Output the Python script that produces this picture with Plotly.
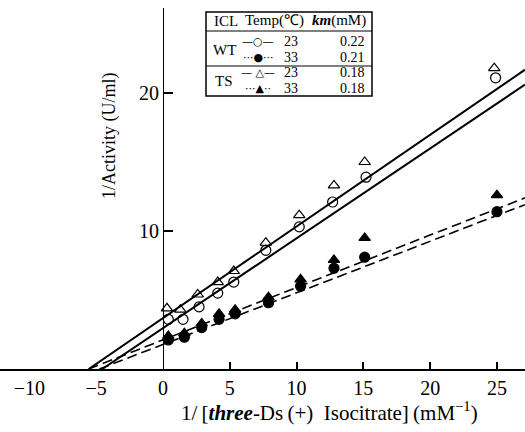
import plotly.graph_objects as go

# ---------------- data ----------------
wt23_x = [0.4, 1.5, 2.7, 4.1, 5.3, 7.7, 10.2, 12.7, 15.2, 24.9]
wt23_y = [3.6, 3.6, 4.5, 5.5, 6.3, 8.6, 10.3, 12.1, 13.9, 21.1]
wt33_x = [0.4, 1.6, 2.9, 4.2, 5.4, 7.9, 10.3, 12.8, 15.1, 25.0]
wt33_y = [2.1, 2.3, 3.0, 3.6, 4.0, 4.8, 6.0, 7.3, 8.1, 11.4]
ts23_x = [0.3, 1.3, 2.6, 4.1, 5.3, 7.7, 10.2, 12.8, 15.1, 24.8]
ts23_y = [4.4, 4.3, 5.4, 6.3, 7.1, 9.15, 11.15, 13.3, 15.0, 21.8]
ts33_x = [0.4, 1.6, 2.9, 4.2, 5.4, 7.9, 10.3, 12.8, 15.1, 25.0]
ts33_y = [2.4, 2.6, 3.3, 4.0, 4.3, 5.2, 6.5, 7.9, 9.5, 12.6]

# fitted lines: km (mM) and y-intercept (1/V)
km = {"wt23": 0.22, "wt33": 0.21, "ts23": 0.18, "ts33": 0.18}
y_int = {"wt23": 2.96, "wt33": 1.78, "ts23": 3.69, "ts33": 2.11}

x_tick_vals = [-10, -5, 0, 5, 10, 15, 20, 25]
x_tick_text = ["\u221210", "\u22125", "0", "5", "10", "15", "20", "25"]
y_tick_vals = [10, 20]

X_RANGE = [-12.2, 27.1]
Y_RANGE = [0, 26.16]

W, H = 525, 432
ML, MR, MT, MB = 0, 0, 8, 63
SERIF = "Liberation Serif, Times New Roman, serif"

fig = go.Figure()

def fit_line(key, dash):
    k, b = km[key], y_int[key]
    x0 = -1.0 / k
    x1 = X_RANGE[1]
    xs = [x0, x1]
    ys = [b * (k * x + 1.0) for x in xs]
    fig.add_trace(go.Scatter(x=xs, y=ys, mode="lines",
                             line=dict(color="black", width=2 if dash == "solid" else 1.6,
                                       dash=dash),
                             showlegend=False, hoverinfo="skip"))

fit_line("ts23", "solid")
fit_line("wt23", "solid")
fit_line("ts33", "10px,5px")
fit_line("wt33", "10px,5px")

def pts(x, y, symbol, size):
    fig.add_trace(go.Scatter(x=x, y=y, mode="markers",
                             marker=dict(symbol=symbol, size=size, color="black",
                                         line=dict(color="black", width=1.2)),
                             showlegend=False))

pts(wt33_x, wt33_y, "circle", 10)
pts(ts33_x, ts33_y, "triangle-up", 10)
pts(wt23_x, wt23_y, "circle-open", 10)
pts(ts23_x, ts23_y, "triangle-up-open", 10)

# ---------- layout helpers (pixel -> paper) ----------
PW = W - ML - MR
PH = H - MT - MB
def pxx(px):
    return (px - ML) / PW
def pyy(py):
    return (H - MB - py) / PH

shapes = []
annotations = []

# legend table
L, R, T, B = 206, 372, 12, 96
shapes.append(dict(type="rect", xref="paper", yref="paper",
                   x0=pxx(L), x1=pxx(R), y0=pyy(B), y1=pyy(T),
                   line=dict(color="black", width=1.5), fillcolor="white", layer="above"))
for ly in (31, 66):
    shapes.append(dict(type="line", xref="paper", yref="paper",
                       x0=pxx(L), x1=pxx(R), y0=pyy(ly), y1=pyy(ly),
                       line=dict(color="black", width=1.2), layer="above"))

def txt(px, py, s, size=14, xanchor="center"):
    annotations.append(dict(x=pxx(px), y=pyy(py), xref="paper", yref="paper",
                            text=s, showarrow=False, xanchor=xanchor, yanchor="middle",
                            borderpad=0,
                            font=dict(family=SERIF, size=size, color="black")))

txt(226, 21, "ICL", size=15)
txt(274, 21, "Temp(\u2103)", size=15)
txt(339, 21, "<b><i>km</i></b>(mM)", size=15)
txt(224, 50, "WT", size=15)
txt(224, 81, "TS", size=15)

legend_rows = [
    (42, "\u2014\u25CB\u2014", "23", "0.22"),
    (57, "\u00B7\u00B7\u00B7\u25CF\u00B7\u00B7\u00B7", "33", "0.21"),
    (73, "\u2014 \u25B3\u2014", "23", "0.18"),
    (88, "\u00B7\u00B7\u00B7\u25B2\u00B7\u00B7", "33", "0.18"),
]
for py, sym, t, k in legend_rows:
    annotations.append(dict(x=pxx(258), y=pyy(py), xref="paper", yref="paper",
                            text=sym, showarrow=False, xanchor="center", yanchor="middle",
                            borderpad=0,
                            font=dict(family="DejaVu Sans", size=11, color="black")))
    txt(291, py, t, size=14)
    txt(366, py, k, size=14, xanchor="right")

# axis titles
annotations.append(dict(x=pxx(329), y=pyy(411), xref="paper", yref="paper",
                        text="1/\u2009[<b><i>three</i></b>-Ds\u2009(+)\u2002Isocitrate]\u2009(mM<sup>\u22121</sup>)",
                        showarrow=False, xanchor="center", yanchor="middle",
                        font=dict(family=SERIF, size=21, color="black")))
annotations.append(dict(x=pxx(109), y=pyy(136), xref="paper", yref="paper",
                        text="1/Activity (U/ml)", textangle=-90,
                        showarrow=False, xanchor="center", yanchor="middle",
                        font=dict(family=SERIF, size=18, color="black")))

fig.update_layout(
    width=W, height=H,
    margin=dict(l=ML, r=MR, t=MT, b=MB),
    paper_bgcolor="white", plot_bgcolor="white",
    showlegend=False,
    font=dict(family=SERIF, size=18, color="black"),
    xaxis=dict(range=X_RANGE, domain=[0, 1],
               tickvals=x_tick_vals, ticktext=x_tick_text,
               ticks="", showgrid=False, zeroline=False,
               showline=True, linecolor="black", linewidth=1.5,
               tickfont=dict(family=SERIF, size=20, color="black"),
               minor=dict(tickvals=[5, 10, 15, 20, 25], ticks="inside",
                          ticklen=7, tickwidth=1.5, tickcolor="black", showgrid=False)),
    yaxis=dict(range=Y_RANGE, anchor="free", position=pxx(163),
               tickvals=y_tick_vals, ticks="inside", ticklen=9, tickwidth=1.5,
               tickcolor="black", showgrid=False, zeroline=False,
               showline=True, linecolor="black", linewidth=1.2,
               tickfont=dict(family=SERIF, size=20, color="black")),
    shapes=shapes,
    annotations=annotations,
)

fig.write_html("out.html", config={"displayModeBar": False},
               post_script="document.body.style.margin='0';document.body.style.padding='0';")
